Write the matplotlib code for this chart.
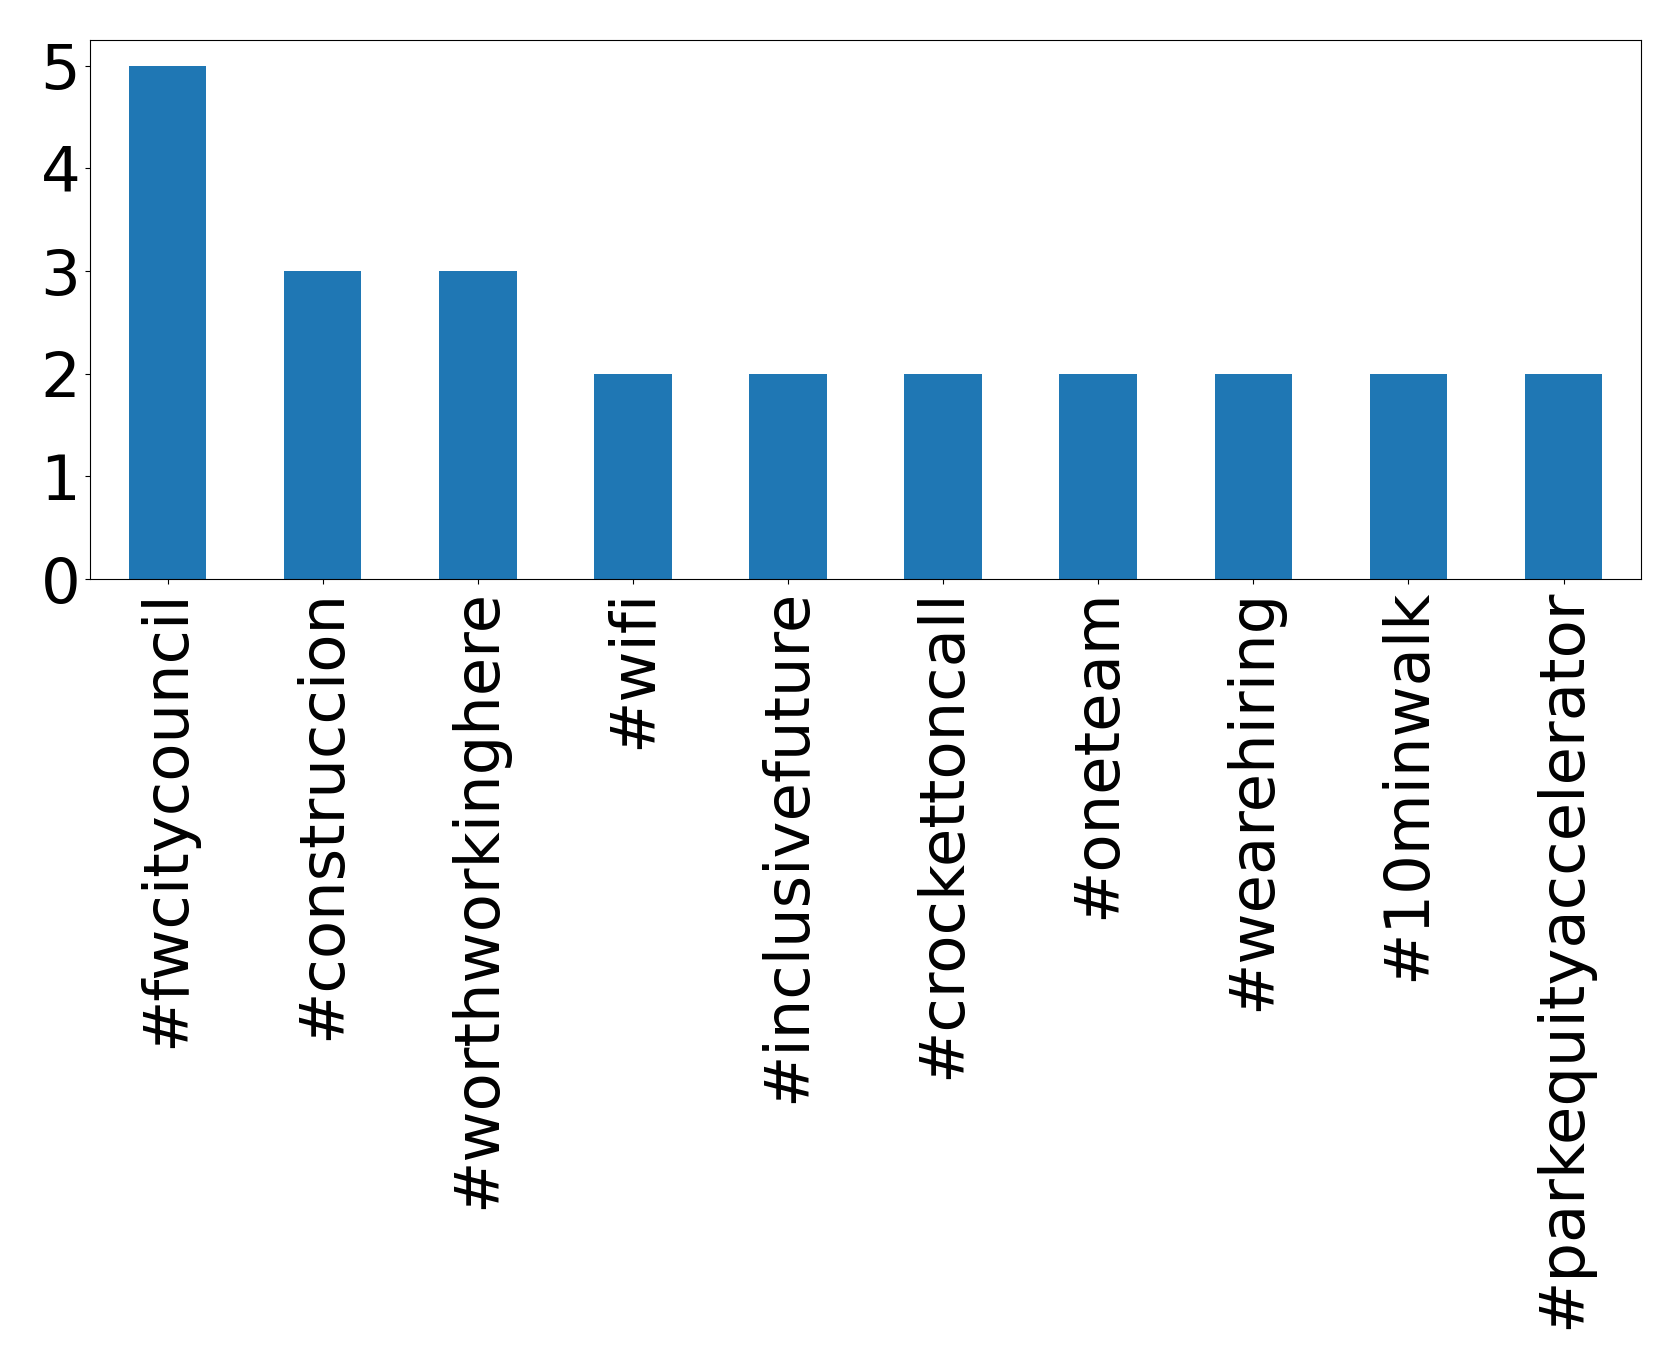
import matplotlib
matplotlib.use("Agg")
import matplotlib.pyplot as plt

# Hashtags más frecuentes
hashtags = ['#fwcitycouncil', '#construccion', '#worthworkinghere', '#wifi',
            '#inclusivefuture', '#crockettoncall', '#oneteam', '#wearehiring',
            '#10minwalk', '#parkequityaccelerator']
counts = [5, 3, 3, 2, 2, 2, 2, 2, 2, 2]

fig, ax = plt.subplots(figsize=(16.79, 13.69), dpi=100)
fig.subplots_adjust(left=0.0536, right=0.9774, top=0.9708, bottom=0.577)

x = range(len(hashtags))
ax.bar(x, counts, width=0.5, color='#1f77b4')
ax.set_xlim(-0.5, len(hashtags) - 0.5)
ax.set_xticks(list(x))
ax.set_xticklabels(hashtags, rotation=90, fontsize=45)
ax.set_yticks(range(6))
ax.tick_params(axis='y', labelsize=45)

fig.savefig('out.png', dpi=100)
